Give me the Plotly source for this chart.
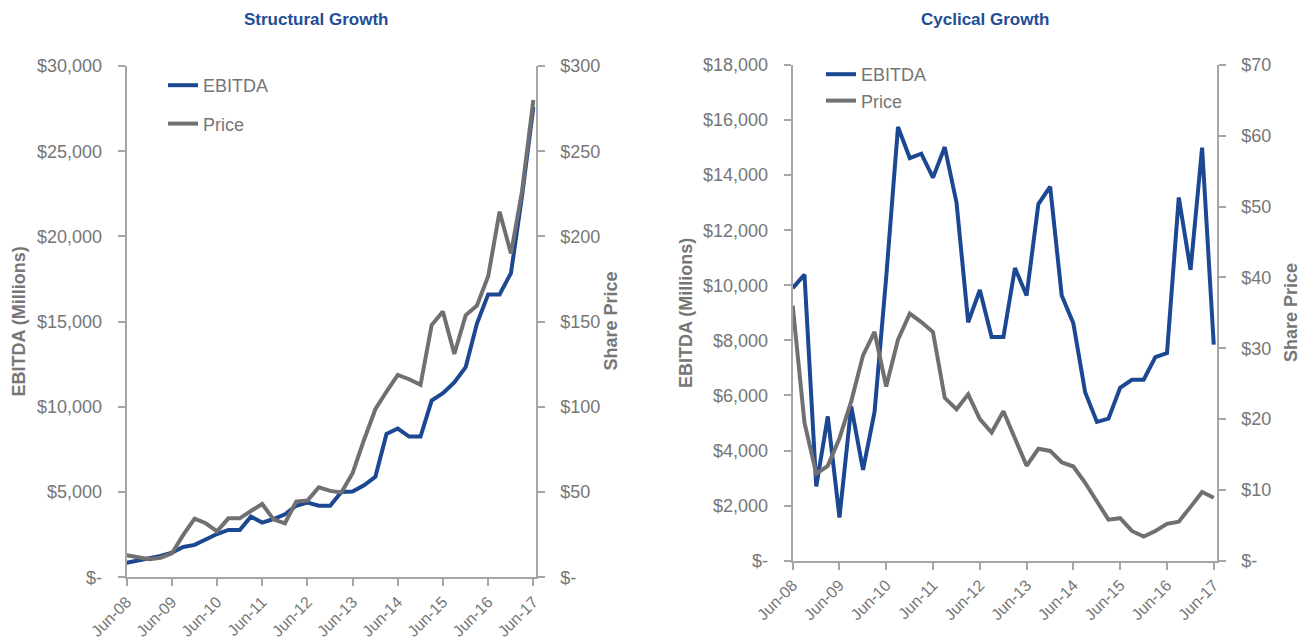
import pandas as pd
import plotly.graph_objects as go

# ---------------- data ----------------
quarters = pd.date_range("2008-06-30", periods=37, freq="QE").strftime("%Y-%m-%d").tolist()
june_ticks = [f"{y}-06-30" for y in range(2008, 2018)]
june_labels = [f"Jun-{str(y)[2:]}" for y in range(2008, 2018)]

structural_ebitda = [850, 980, 1100, 1250, 1450, 1780, 1900, 2230, 2540, 2780,
                     2780, 3560, 3210, 3420, 3700, 4200, 4380, 4200, 4200, 5000,
                     5030, 5400, 5900, 8410, 8730, 8260, 8260, 10370, 10800, 11430,
                     12330, 14890, 16600, 16600, 17850, 22400, 27600]
structural_price = [12.9, 11.7, 10.6, 11.5, 14.0, 24.9, 34.4, 31.7, 27.0, 34.6,
                    34.6, 38.9, 43.0, 34.0, 31.7, 44.4, 45.0, 52.8, 50.7, 49.7,
                    61.1, 80.6, 98.6, 109.0, 118.8, 116.2, 112.9, 148.0, 156.0, 131.0,
                    153.7, 159.5, 176.6, 214.5, 190.0, 226.8, 280.0]

cyclical_ebitda = [9900, 10390, 2700, 5240, 1570, 5600, 3300, 5400, 10300, 15750,
                   14620, 14780, 13910, 15020, 13000, 8660, 9830, 8120, 8120, 10630,
                   9630, 12950, 13580, 9630, 8620, 6120, 5040, 5160, 6280, 6570,
                   6570, 7390, 7540, 13190, 10560, 15000, 7850]
cyclical_price = [36.0, 19.5, 12.3, 13.4, 17.3, 22.5, 29.0, 32.3, 24.6, 31.2,
                  34.9, 33.7, 32.3, 23.0, 21.4, 23.5, 20.0, 18.1, 21.1, 17.4,
                  13.4, 15.8, 15.5, 13.9, 13.3, 11.0, 8.4, 5.8, 6.0, 4.2,
                  3.4, 4.2, 5.2, 5.5, 7.6, 9.7, 8.9]

left_ebitda_ticks = [0, 5000, 10000, 15000, 20000, 25000, 30000]
left_ebitda_labels = ["$-", "$5,000", "$10,000", "$15,000", "$20,000", "$25,000", "$30,000"]
left_price_ticks = [0, 50, 100, 150, 200, 250, 300]
left_price_labels = ["$-", "$50", "$100", "$150", "$200", "$250", "$300"]
right_ebitda_ticks = [0, 2000, 4000, 6000, 8000, 10000, 12000, 14000, 16000, 18000]
right_ebitda_labels = ["$-", "$2,000", "$4,000", "$6,000", "$8,000", "$10,000",
                       "$12,000", "$14,000", "$16,000", "$18,000"]
right_price_ticks = [0, 10, 20, 30, 40, 50, 60, 70]
right_price_labels = ["$-", "$10", "$20", "$30", "$40", "$50", "$60", "$70"]

# ---------------- style ----------------
OFF = 8                      # default page body margin
W, H = 1307 - OFF, 643 - OFF
BLUE = "#1C4792"
GREY = "#707072"
AXIS = "#A6A6A6"
TXT = "#767676"
TITLE = "#1F4E96"
FONT = "Liberation Sans, Arial, sans-serif"


def px(x):
    return (x - OFF) / W


def py(y):
    return 1 - (y - OFF) / H


fig = go.Figure()

fig.add_trace(go.Scatter(x=quarters, y=structural_ebitda, name="EBITDA", mode="lines",
                         line=dict(color=BLUE, width=4), xaxis="x", yaxis="y",
                         legend="legend", legendgroup="a"))
fig.add_trace(go.Scatter(x=quarters, y=structural_price, name="Price", mode="lines",
                         line=dict(color=GREY, width=4), xaxis="x", yaxis="y2",
                         legend="legend", legendgroup="b"))
fig.add_trace(go.Scatter(x=quarters, y=cyclical_ebitda, name="EBITDA", mode="lines",
                         line=dict(color=BLUE, width=4), xaxis="x2", yaxis="y3",
                         legend="legend2", legendgroup="c"))
fig.add_trace(go.Scatter(x=quarters, y=cyclical_price, name="Price", mode="lines",
                         line=dict(color=GREY, width=4), xaxis="x2", yaxis="y4",
                         legend="legend2", legendgroup="d"))

common_axis = dict(showline=True, linecolor=AXIS, linewidth=2, showgrid=False,
                   zeroline=False, ticks="outside", ticklen=7, tickwidth=1.5,
                   tickcolor=AXIS, automargin=False,
                   tickfont=dict(family=FONT, size=18, color=TXT))

xcommon = dict(common_axis, type="date", tickmode="array", tickvals=june_ticks,
               ticktext=june_labels, tickangle=-45,
               tickfont=dict(family=FONT, size=16, color=TXT))

left_dom_x = [px(126.7), px(535.7)]
right_dom_x = [px(792.7), px(1216.7)]
left_dom_y = [py(577.3), py(66)]
right_dom_y = [py(560.7), py(65)]

fig.update_layout(
    width=W, height=H,
    margin=dict(l=0, r=0, t=0, b=0, autoexpand=False),
    paper_bgcolor="white", plot_bgcolor="white",
    font=dict(family=FONT, color=TXT),
    xaxis=dict(xcommon, domain=left_dom_x, anchor="y",
               range=["2008-06-30", "2017-07-19"]),
    xaxis2=dict(xcommon, domain=right_dom_x, anchor="y3",
                range=["2008-06-30", "2017-07-23"]),
    yaxis=dict(common_axis, domain=left_dom_y, anchor="x", range=[0, 30000],
               tickmode="array", tickvals=left_ebitda_ticks, ticktext=left_ebitda_labels,
               ticklabelstandoff=12),
    yaxis2=dict(common_axis, overlaying="y", anchor="x", side="right", range=[0, 300],
                tickmode="array", tickvals=left_price_ticks, ticktext=left_price_labels,
                ticklabelstandoff=12),
    yaxis3=dict(common_axis, domain=right_dom_y, anchor="x2", range=[0, 18000],
                tickmode="array", tickvals=right_ebitda_ticks, ticktext=right_ebitda_labels,
                ticklabelstandoff=12),
    yaxis4=dict(common_axis, overlaying="y3", anchor="x2", side="right", range=[0, 70],
                tickmode="array", tickvals=right_price_ticks, ticktext=right_price_labels,
                ticklabelstandoff=12),
    legend=dict(x=px(163), y=py(67), xanchor="left", yanchor="top",
                bgcolor="rgba(0,0,0,0)", font=dict(family=FONT, size=18, color=TXT),
                tracegroupgap=12, itemclick=False),
    legend2=dict(x=px(821), y=py(56), xanchor="left", yanchor="top",
                 bgcolor="rgba(0,0,0,0)", font=dict(family=FONT, size=18, color=TXT),
                 tracegroupgap=0, itemclick=False),
    showlegend=True,
)

ann_common = dict(xref="paper", yref="paper", showarrow=False,
                  xanchor="center", yanchor="middle")
annotations = [
    dict(ann_common, x=px(316), y=py(19), text="<b>Structural Growth</b>",
         font=dict(family=FONT, size=17, color=TITLE)),
    dict(ann_common, x=px(985), y=py(19), text="<b>Cyclical Growth</b>",
         font=dict(family=FONT, size=17, color=TITLE)),
    dict(ann_common, x=px(19), y=py(321.6), text="<b>EBITDA (Millions)</b>", textangle=-90,
         font=dict(family=FONT, size=18, color=TXT)),
    dict(ann_common, x=px(611), y=py(321.6), text="<b>Share Price</b>", textangle=-90,
         font=dict(family=FONT, size=18, color=TXT)),
    dict(ann_common, x=px(686), y=py(313), text="<b>EBITDA (Millions)</b>", textangle=-90,
         font=dict(family=FONT, size=18, color=TXT)),
    dict(ann_common, x=px(1291), y=py(313), text="<b>Share Price</b>", textangle=-90,
         font=dict(family=FONT, size=18, color=TXT)),
]
fig.update_layout(annotations=annotations)

fig.write_html("out.html")
